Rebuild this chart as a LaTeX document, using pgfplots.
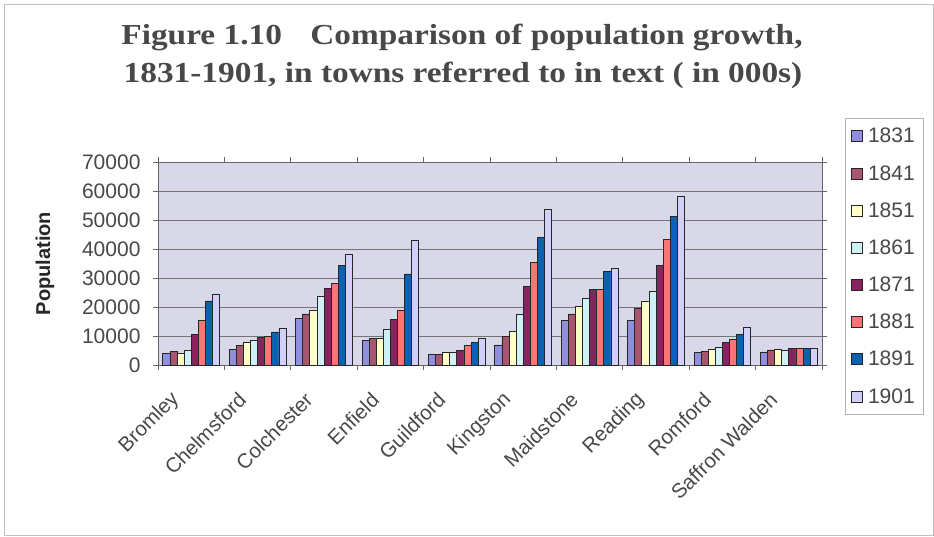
\documentclass[border=0pt]{standalone}
\usepackage{pgfplots}
\usepackage{pgfplotstable}
\usepackage{fontspec}
\pgfplotsset{compat=1.18}
\setmainfont{Liberation Serif}
\setsansfont{Liberation Sans}

\definecolor{c1831}{RGB}{143,143,221}
\definecolor{c1841}{RGB}{168,86,110}
\definecolor{c1851}{RGB}{255,255,200}
\definecolor{c1861}{RGB}{207,240,245}
\definecolor{c1871}{RGB}{133,36,94}
\definecolor{c1881}{RGB}{255,117,117}
\definecolor{c1891}{RGB}{10,98,176}
\definecolor{c1901}{RGB}{208,208,250}
\definecolor{plotbg}{RGB}{216,216,232}
\definecolor{txtgray}{RGB}{72,72,72}

% Population by town and census year
\pgfplotstableread{
x  y1831 y1841 y1851 y1861 y1871 y1881 y1891 y1901
0  4000  4600  4000  5200  10600 15500 22100 24500
1  5400  6600  7900  8600  9400  9800  11400 12500
2  15900 17600 18800 23600 26400 28200 34300 38000
3  8400  9100  9100  12300 15800 18900 31400 42900
4  3500  3500  4300  4300  5000  6800  7700  9100
5  6900  9800  11700 17500 27000 35300 44000 53700
6  15500 17600 20100 22800 25900 25900 32200 33400
7  15500 19600 22100 25300 34200 43200 51200 58100
8  4300  4800  5400  6100  7700  8900  10400 13000
9  4500  5200  5500  5200  5600  5600  5600  5600
}\towns

\begin{document}
\begin{tikzpicture}
\path[use as bounding box] (0pt,0pt) rectangle (934pt,536pt);
\draw[black!25, line width=1pt] (4pt,1pt) rectangle (933pt,531pt);

\node[anchor=base, font=\fontsize{29}{34}\selectfont\bfseries, text=txtgray]
  at (462pt,491pt) {\scalebox{1.15}[1]{Figure 1.10\hspace{0.6em} Comparison of population growth,}};
\node[anchor=base, font=\fontsize{29}{34}\selectfont\bfseries, text=txtgray]
  at (463pt,453pt) {\scalebox{1.15}[1]{1831-1901, in towns referred to in text ( in 000s)}};

\begin{axis}[
  at={(158pt,171pt)}, anchor=south west,
  scale only axis, width=664pt, height=203pt,
  ybar=0pt, bar width=7.1pt,
  xmin=-0.5, xmax=9.5, ymin=0, ymax=70000,
  axis background/.style={fill=plotbg},
  axis line style={draw=black!60, line width=0.8pt},
  ytick={0,10000,...,70000},
  scaled y ticks=false,
  /pgf/number format/assume math mode=true,
  yticklabel style={/pgf/number format/1000 sep={}, font=\sffamily\fontsize{21}{25}\selectfont, text=txtgray, xshift=-9pt},
  ymajorgrids, grid style={draw=black!55, line width=0.7pt},
  tick align=outside, major tick length=5pt, minor tick length=5pt,
  tick style={draw=black!60, line width=0.8pt},
  xtick={0,...,9},
  major x tick style={draw=none},
  minor xtick={-0.5,0.5,...,9.5},
  xticklabels={Bromley,Chelmsford,Colchester,Enfield,Guildford,Kingston,Maidstone,Reading,Romford,Saffron Walden},
  xticklabel style={rotate=45, anchor=east, xshift=-26pt, yshift=-8pt,
    font=\sffamily\fontsize{20.5}{24}\selectfont, text=txtgray},
  ylabel={\bfseries Population},
  every axis y label/.style={at={(axis description cs:0,0.5)}, xshift=-113pt,
    rotate=90, anchor=center, font=\sffamily\fontsize{20}{24}\selectfont, text=black!85},
  every axis plot/.append style={draw=black!85, line width=0.8pt},
  legend cell align=left,
  legend image code/.code={\draw[#1, line width=0.8pt] (0pt,-5.5pt) rectangle (11pt,5.5pt);},
  legend style={at={(1,1)}, anchor=north west, xshift=23pt, yshift=44pt,
    draw=black!30, fill=white, font=\sffamily\fontsize{21}{25}\selectfont,
    text=txtgray, row sep=17pt, column sep=3pt, inner xsep=6pt, inner ysep=8pt},
]
\addplot[fill=c1831] table[x=x,y=y1831] {\towns};
\addplot[fill=c1841] table[x=x,y=y1841] {\towns};
\addplot[fill=c1851] table[x=x,y=y1851] {\towns};
\addplot[fill=c1861] table[x=x,y=y1861] {\towns};
\addplot[fill=c1871] table[x=x,y=y1871] {\towns};
\addplot[fill=c1881] table[x=x,y=y1881] {\towns};
\addplot[fill=c1891] table[x=x,y=y1891] {\towns};
\addplot[fill=c1901] table[x=x,y=y1901] {\towns};
\legend{1831,1841,1851,1861,1871,1881,1891,1901}
\end{axis}
\end{tikzpicture}
\end{document}
